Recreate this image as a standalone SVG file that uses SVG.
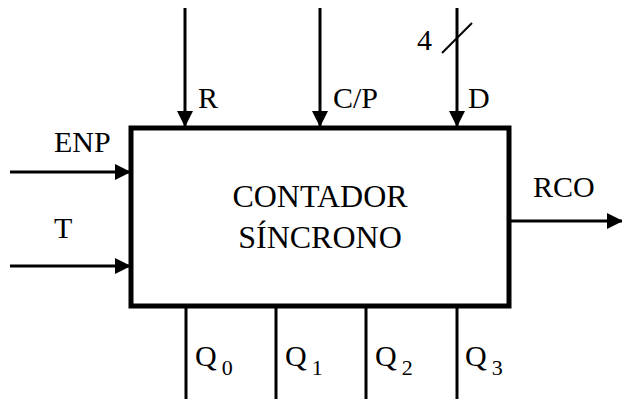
<svg xmlns="http://www.w3.org/2000/svg" width="622" height="399" viewBox="0 0 622 399">
<style>
.t{font-family:"Liberation Serif","Times New Roman","DejaVu Serif",serif;fill:#000}
.lbl{font-size:30px}
.big{font-size:32px}
.sub{font-size:22px}
.w{stroke:#000;stroke-width:3;fill:none}
</style>
<defs>
<marker id="ah" markerUnits="userSpaceOnUse" markerWidth="16" markerHeight="16" viewBox="0 0 16 16" refX="15" refY="8" orient="auto">
<path d="M0,0 L16,8 L0,16 Z" fill="#000"/>
</marker>
</defs>
<g id="connectors">
<line class="w" x1="185" y1="8" x2="185" y2="126" marker-end="url(#ah)"/>
<line class="w" x1="320" y1="8" x2="320" y2="126" marker-end="url(#ah)"/>
<line class="w" x1="457" y1="8" x2="457" y2="126" marker-end="url(#ah)"/>
<line stroke="#000" stroke-width="2" x1="442" y1="53" x2="472" y2="23"/>
<line class="w" x1="10" y1="172" x2="130" y2="172" marker-end="url(#ah)"/>
<line class="w" x1="10" y1="266" x2="130" y2="266" marker-end="url(#ah)"/>
<line class="w" x1="511" y1="221" x2="622" y2="221" marker-end="url(#ah)"/>
<line class="w" x1="186" y1="308" x2="186" y2="399"/>
<line class="w" x1="276" y1="308" x2="276" y2="399"/>
<line class="w" x1="366" y1="308" x2="366" y2="399"/>
<line class="w" x1="457" y1="308" x2="457" y2="399"/>
</g>
<g id="counter">
<rect x="131" y="128" width="378" height="178" fill="#fff" stroke="#000" stroke-width="5"/>
<text class="t big" x="320" y="207" text-anchor="middle">CONTADOR</text>
<text class="t big" x="320" y="248" text-anchor="middle">SÍNCRONO</text>
</g>
<g id="labels">
<text class="t lbl" x="198" y="108">R</text>
<text class="t lbl" x="333" y="108">C/P</text>
<text class="t lbl" x="468" y="108">D</text>
<text class="t lbl" x="417" y="50">4</text>
<text class="t lbl" x="54" y="152">ENP</text>
<text class="t lbl" x="54" y="238">T</text>
<text class="t lbl" x="533" y="197">RCO</text>
<text class="t lbl" x="195" y="366">Q<tspan class="sub" dx="5" dy="9">0</tspan></text>
<text class="t lbl" x="285" y="366">Q<tspan class="sub" dx="5" dy="9">1</tspan></text>
<text class="t lbl" x="375" y="366">Q<tspan class="sub" dx="5" dy="9">2</tspan></text>
<text class="t lbl" x="465" y="366">Q<tspan class="sub" dx="5" dy="9">3</tspan></text>
</g>
</svg>
